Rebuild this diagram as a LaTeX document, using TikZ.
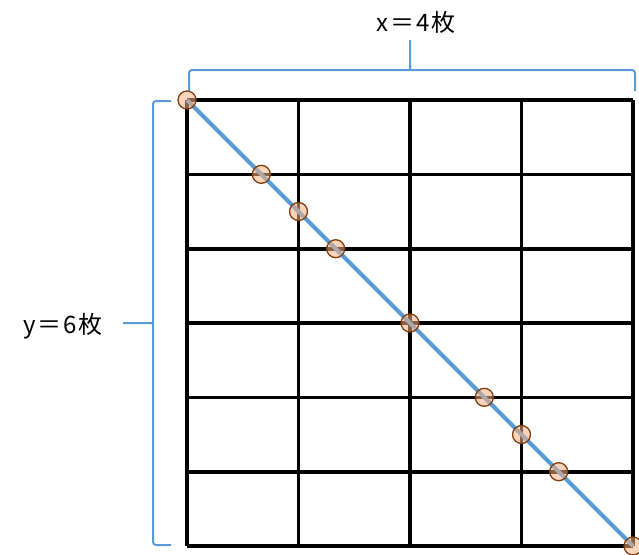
\documentclass[tikz,border=0pt]{standalone}
\usepackage{fontspec}
\newfontfamily\cjk{Noto Sans CJK JP}
\definecolor{lineblue}{HTML}{5B9BD5}
\definecolor{dotfill}{HTML}{F4B183}
\definecolor{dotdraw}{HTML}{843C0C}
\begin{document}
\begin{tikzpicture}[x=1pt,y=-1pt,
  gridline/.style={line width=3.6pt,black},
  diag/.style={line width=4pt,lineblue},
  bracel/.style={line width=2pt,lineblue,rounded corners=3pt},
  dot/.style={circle,minimum size=18pt,inner sep=0pt,fill=dotfill,fill opacity=0.55,draw=dotdraw,draw opacity=1,line width=1.3pt},
  lbl/.style={font=\cjk\fontsize{24}{27}\selectfont,inner sep=0pt}]
\useasboundingbox (0,0) rectangle (639,554);
\clip (0,0) rectangle (639,554);
% grid
\foreach \x in {187,298.5,410,521.5,633} \draw[gridline] (\x,100) -- (\x,546);
\foreach \y in {100,174.3,248.7,323,397.3,471.7,546} \draw[gridline] (187,\y) -- (633,\y);
% diagonal
\coordinate (A) at (187,100);
\coordinate (B) at (633,546);
\draw[diag] (A) -- (B);
% dots
\foreach \p [count=\i] in {{187,100},{261.3,174.3},{298.5,211.5},{335.7,248.7},{410,323},{484.3,397.3},{521.5,434.5},{558.7,471.7},{633,546}}
  \node[dot] (d\i) at (\p) {};
% top brace
\coordinate (t1) at (189,91);
\coordinate (t2) at (635,91);
\coordinate (tt) at (410,40);
\draw[bracel] (t1) |- (406,70) .. controls (410,70) .. (410,65) -- (tt);
\draw[bracel] (t2) |- (414,70) .. controls (410,70) .. (410,65);
\node[lbl] (xl) at (416,22) {x\kern2pt＝\kern2pt4\kern2pt枚};
% left brace
\coordinate (l1) at (171,101);
\coordinate (l2) at (171,545);
\coordinate (lt) at (123,323);
\draw[bracel] (l1) -| (153,319) .. controls (153,323) .. (149,323) -- (lt);
\draw[bracel] (l2) -| (153,327) .. controls (153,323) .. (149,323);
\node[lbl] (yl) at (63,326) {y\kern2pt＝\kern2pt6\kern2pt枚};
\end{tikzpicture}
\end{document}
